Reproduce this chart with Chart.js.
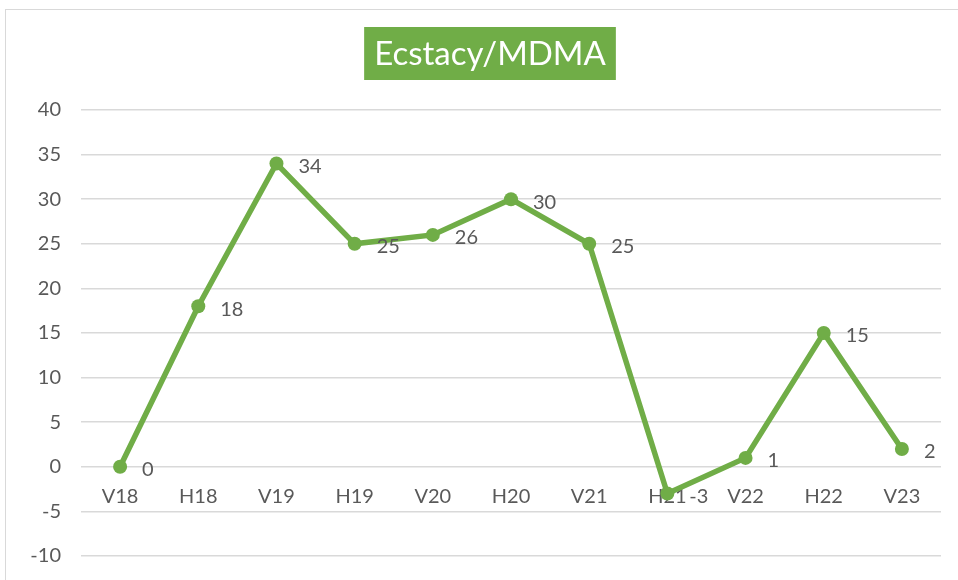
<!DOCTYPE html>
<html>
<head>
<meta charset="utf-8">
<script src="https://cdn.jsdelivr.net/npm/chart.js@4"></script>
<style>
html,body{margin:0;padding:0;background:#fff;}
#wrap{position:relative;width:958px;height:580px;overflow:hidden;}
#frame{position:absolute;left:5px;top:9px;width:1000px;height:1000px;border:1.5px solid #d9d9d9;box-sizing:border-box;}
canvas{position:absolute;left:0;top:0;}
</style>
</head>
<body>
<div id="wrap">
<div id="frame"></div>
<canvas id="chart" width="958" height="588"></canvas>
</div>
<script>
/* datos */
const titulo = "Ecstacy/MDMA";
const categorias = ["V18","H18","V19","H19","V20","H20","V21","H21","V22","H22","V23"];
const valores = [0,18,34,25,26,30,25,-3,1,15,2];
const yMin = -10, yMax = 40, yPaso = 5;

const verde = "#70AD47";
const gris = "#595959";
const fuente = "Lato, 'Open Sans', sans-serif";

/* titulo con caja verde */
const tituloCaja = {
  id: "tituloCaja",
  afterDraw(chart){
    const ctx = chart.ctx;
    ctx.save();
    ctx.font = "33px " + fuente;
    const w = ctx.measureText(titulo).width + 20;
    const cx = 490, top = 27, h = 53;
    ctx.fillStyle = verde;
    ctx.fillRect(cx - w/2, top, w, h);
    ctx.fillStyle = "#fff";
    ctx.textAlign = "center";
    ctx.textBaseline = "middle";
    ctx.fillText(titulo, cx, top + h/2 + 1);
    ctx.restore();
  }
};

/* etiquetas de datos */
const etiquetas = {
  id: "etiquetas",
  afterDatasetsDraw(chart){
    const ctx = chart.ctx;
    const meta = chart.getDatasetMeta(0);
    ctx.save();
    ctx.font = "20px " + fuente;
    ctx.fillStyle = gris;
    ctx.textAlign = "left";
    ctx.textBaseline = "middle";
    meta.data.forEach((pt,i)=>{
      ctx.fillText(String(valores[i]), pt.x + 22, pt.y + 3);
    });
    ctx.restore();
  }
};

new Chart(document.getElementById("chart"), {
  type: "line",
  data: {
    labels: categorias,
    datasets: [{
      data: valores,
      borderColor: verde,
      backgroundColor: verde,
      borderWidth: 5.5,
      pointRadius: 7,
      pointHoverRadius: 7,
      pointBorderWidth: 0,
      tension: 0
    }]
  },
  options: {
    responsive: false,
    animation: false,
    devicePixelRatio: 1,
    layout: { padding: { top: 110, right: 17, bottom: 6, left: 0 } },
    plugins: {
      legend: { display: false },
      title: { display: false },
      tooltip: { enabled: false }
    },
    scales: {
      x: {
        type: "category",
        position: { y: 0 },
        offset: true,
        grid: { display: false },
        border: { display: false },
        ticks: { color: gris, font: { size: 20, family: fuente }, padding: 10, maxRotation: 0 }
      },
      y: {
        min: yMin,
        max: yMax,
        ticks: { stepSize: yPaso, color: gris, font: { size: 20, family: fuente }, padding: 20 },
        grid: { color: "#d9d9d9", lineWidth: 1.5, drawTicks: false },
        border: { display: false },
        afterFit(scale){ scale.width = 81; }
      }
    }
  },
  plugins: [tituloCaja, etiquetas]
});
</script>
</body>
</html>
